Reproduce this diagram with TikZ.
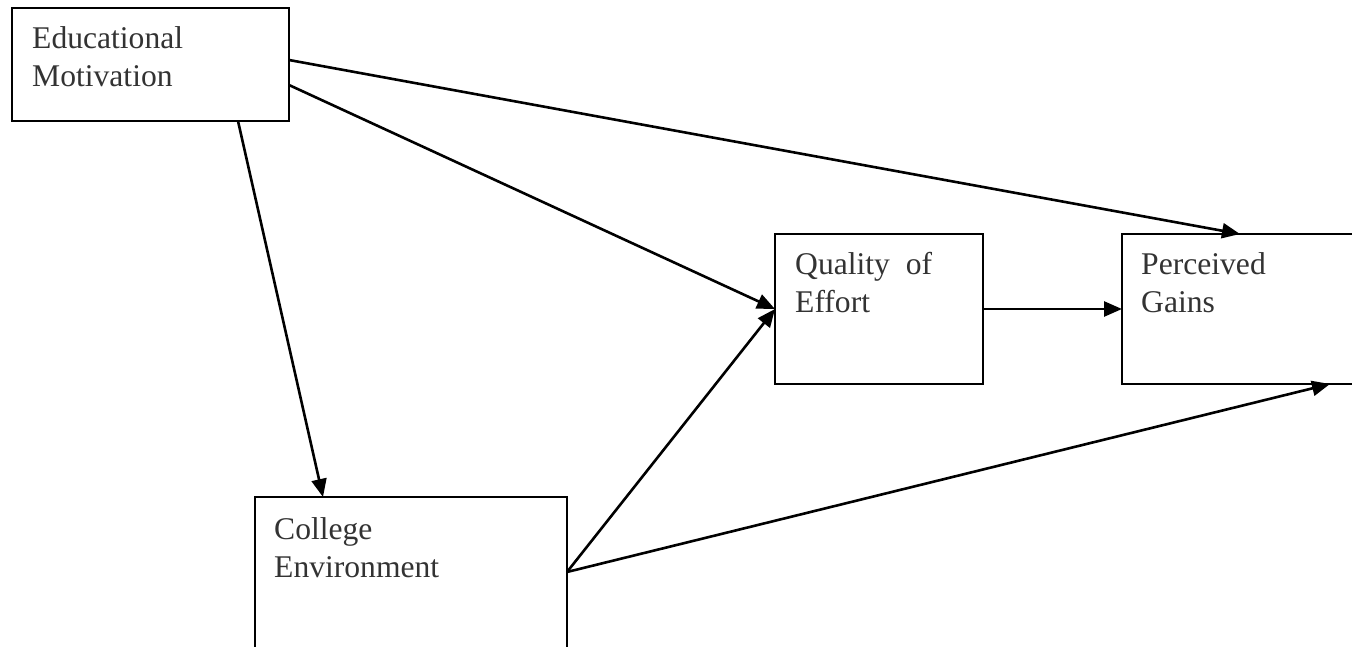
\documentclass[tikz,border=0pt]{standalone}
\usepackage{fontspec}
\setmainfont{Liberation Serif}
\usetikzlibrary{arrows.meta}
\definecolor{txt}{HTML}{333333}
\tikzset{
  box/.style={draw=black, line width=2.4pt, fill=none, anchor=north west, inner sep=0pt, outer sep=0pt},
  lbl/.style={text=txt, align=left, inner sep=0pt, anchor=base west, font=\fontsize{31.6}{38}\selectfont},
  conn/.style={line width=2.6pt, -{Triangle[length=18pt,width=15pt]}}
}
\begin{document}
\begin{tikzpicture}[x=1pt,y=-1pt]
\useasboundingbox (0,0) rectangle (1352,647);
\clip (0,0) rectangle (1352,647);
\fill[white] (0,0) rectangle (1352,647);
\node[box, minimum width=277pt, minimum height=113pt] (em) at (12,8) {};
\node[box, minimum width=208pt, minimum height=150pt] (qe) at (775,234) {};
\node[box, minimum width=258pt, minimum height=150pt] (pg) at (1122,234) {};
\node[box, minimum width=312pt, minimum height=200pt] (ce) at (255,497) {};
\node[lbl] (emt) at (32,87) {Educational\\Motivation};
\node[lbl] (qet) at (795,312) {Quality\hspace{0.5em}of\\Effort};
\node[lbl] (pgt) at (1141,312) {Perceived\\Gains};
\node[lbl] (cet) at (274,577) {College\\Environment};
\draw[conn] ([yshift=-52pt]em.north east) -- ([xshift=118pt]pg.north west);
\draw[conn] ([yshift=-77pt]em.north east) -- (qe.west);
\draw[conn] ([xshift=226pt]em.south west) -- ([xshift=68pt]ce.north west);
\draw[conn] ([yshift=-75pt]ce.north east) -- (qe.west);
\draw[conn] ([yshift=-75pt]ce.north east) -- ([xshift=208pt]pg.south west);
\draw[conn] (qe.east) -- (pg.west);
\end{tikzpicture}
\end{document}
